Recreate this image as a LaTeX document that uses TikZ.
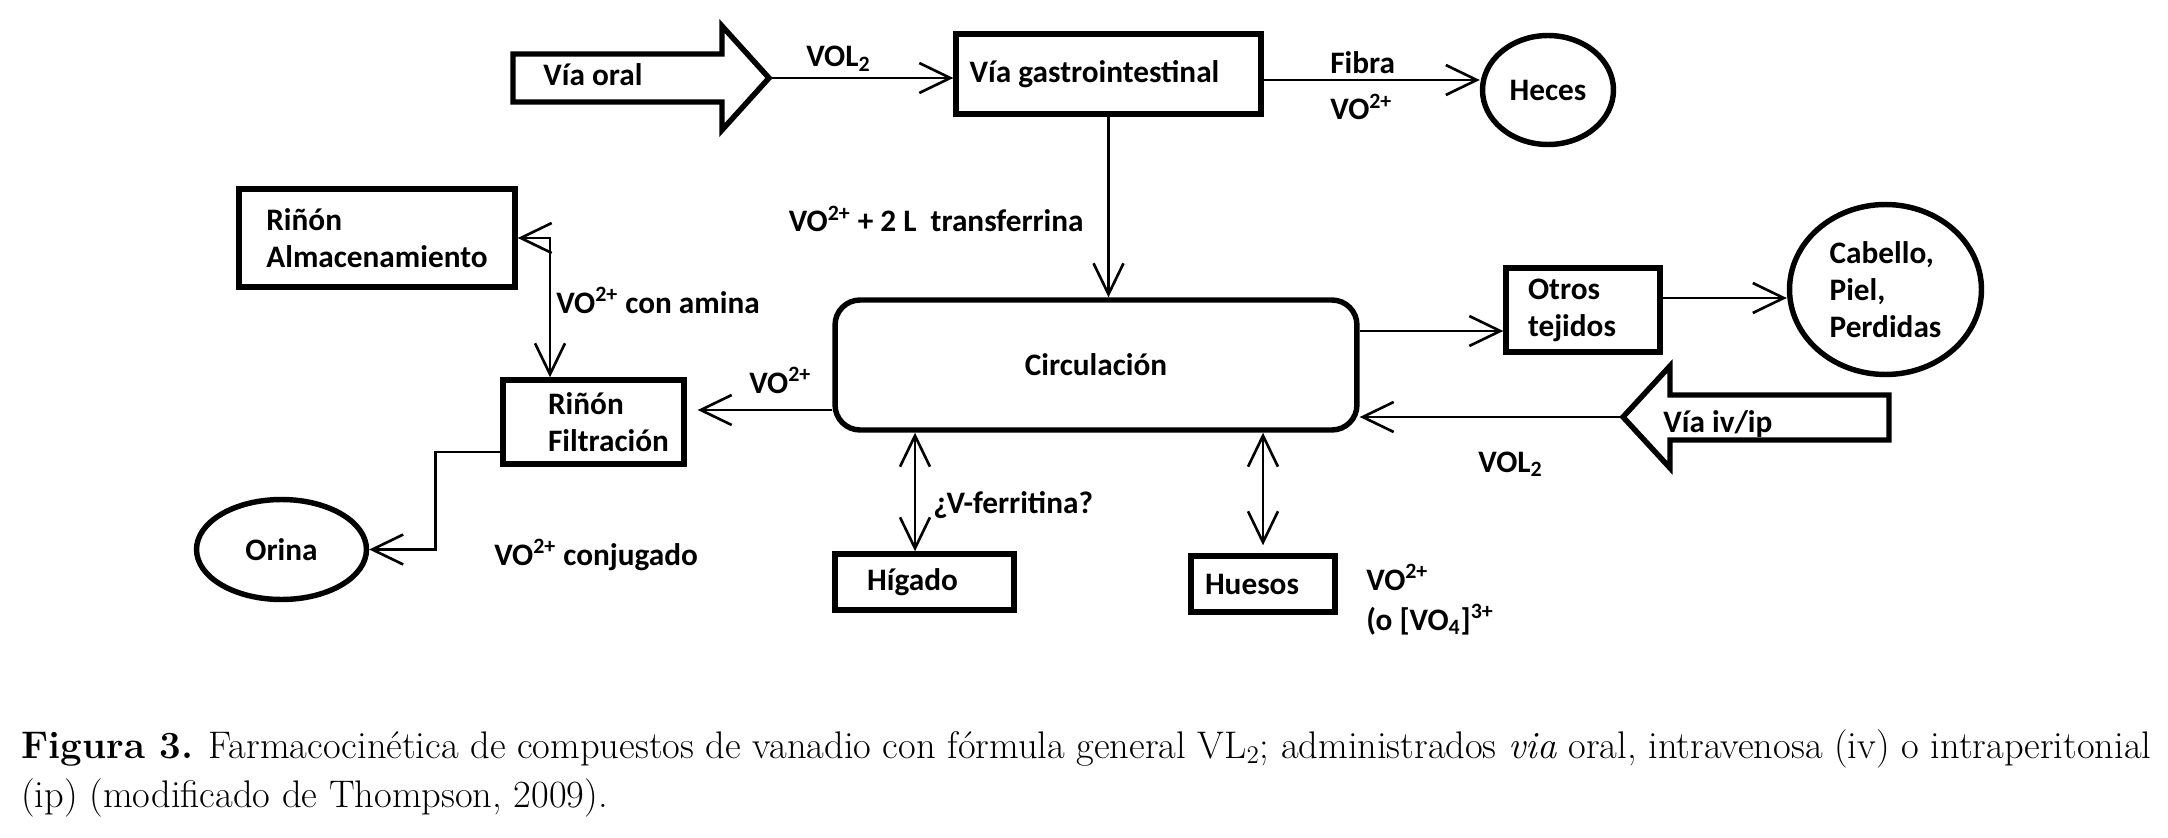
\documentclass[tikz,border=0pt]{standalone}
\usepackage{fontspec}
\newfontfamily\diagfont{Carlito}
\usetikzlibrary{arrows.meta}
\usetikzlibrary{shapes.geometric}

\begin{document}
\begin{tikzpicture}[x=.02cm, y=-.02cm,
  every node/.style={font=\diagfont\bfseries\fontsize{17.8}{21}\selectfont},
  box/.style={draw, line width=3.1pt, inner sep=3pt},
  blob/.style={draw, ellipse, line width=3.1pt, inner sep=1pt},
  lbl/.style={anchor=base west, inner sep=0pt},
  flow/.style={line width=1.5pt, -{Straight Barb[length=.62cm, width=.6cm]}},
  both/.style={line width=1.5pt, {Straight Barb[length=.62cm, width=.6cm]}-{Straight Barb[length=.62cm, width=.6cm]}}]
\useasboundingbox (0,0) rectangle (2168,838);

% block arrows
\draw[line width=3.1pt] (513,54) -- (722,54) -- (722,26) -- (769,78) -- (722,130) -- (722,102) -- (513,102) -- cycle;
\coordinate (oraltip) at (769,78);
\node[lbl] (oraltxt) at (543,86) {Vía oral};
\draw[line width=3.1pt] (1889,395) -- (1670,395) -- (1670,366) -- (1623,417) -- (1670,468) -- (1670,440) -- (1889,440) -- cycle;
\coordinate (ivtip) at (1623,417);
\node[lbl] (ivtxt) at (1663,432) {Vía iv/ip};

% boxes
\node[box, minimum width=6.1cm, minimum height=1.6cm] (gi) at (1108.5,74) {Vía gastrointestinal\hspace*{.56cm}};
\node[blob, minimum width=2.62cm, minimum height=2.18cm] (heces) at (1548,90) {Heces};
\node[box, rounded corners=.5cm, minimum width=10.44cm, minimum height=2.6cm] (circ) at (1096,365) {Circulación};
\node[box, align=left, minimum width=3.08cm, minimum height=1.68cm] (otros) at (1583,310) {Otros\\tejidos\hspace*{.44cm}};
\node[blob, align=left, minimum width=3.84cm, minimum height=3.4cm] (cab) at (1885.5,289.5) {Cabello,\\Piel,\\Perdidas};
\node[box, align=left, minimum width=5.52cm, minimum height=1.96cm] (alm) at (377,238) {Riñón\\Almacenamiento};
\node[box, align=left, minimum width=3.62cm, minimum height=1.68cm] (filt) at (593.5,422) {\hspace*{.6cm}Riñón\\\hspace*{.6cm}Filtración};
\node[blob, minimum width=3.4cm, minimum height=2cm] (orina) at (281.5,549.5) {Orina};
\node[box, minimum width=3.58cm, minimum height=1.12cm] (hig) at (924.5,582) {Hígado\hspace*{.48cm}};
\node[box, minimum width=2.88cm, minimum height=1.12cm] (hue) at (1263,584) {Huesos\hspace*{.44cm}};

% connectors
\draw[flow] (oraltip) -- (oraltip -| gi.west);
\draw[flow] ([yshift=-.12cm]gi.east) -- ([yshift=-.12cm]gi.east -| heces.west);
\draw[flow] (gi.south) -- (gi.south |- circ.north);
\draw[flow] ([yshift=.68cm]circ.east) -- ([yshift=.68cm]circ.east -| otros.west);
\draw[flow] ([yshift=.24cm]otros.east) -- ([yshift=.24cm]otros.east -| cab.west);
\draw[flow] (ivtip) -- (ivtip -| circ.east);
\draw[flow, shorten >=.22cm] ([yshift=-.9cm]circ.west) -- ([yshift=-.9cm]circ.west -| filt.east);
\draw[both] (alm.east) -| ([xshift=-.87cm]filt.north);
\draw[flow] ([yshift=-.6cm]filt.west) -- ++(-65,0) |- (orina.east);
\draw[both] ([xshift=-.19cm]hig.north) -- ([xshift=-.19cm]hig.north |- circ.south);
\draw[both, shorten <=.16cm] (hue.north) -- (hue.north |- circ.south);

% labels
\node[lbl] (vol1) at (806,67) {VOL\textsubscript{2}};
\node[lbl] (fibra) at (1330,74) {Fibra};
\node[lbl] (vo1) at (1330,120) {VO\textsuperscript{2+}};
\node[lbl, anchor=base east] (transf) at (1084,232) {VO\textsuperscript{2+} + 2 L\ \ transferrina};
\node[lbl] (amina) at (556,313) {VO\textsuperscript{2+} con amina};
\node[lbl] (vo2) at (749,393) {VO\textsuperscript{2+}};
\node[lbl] (conj) at (494,565) {VO\textsuperscript{2+} conjugado};
\node[lbl] (ferr) at (933,513) {¿V-ferritina?};
\node[lbl] (vo3) at (1366,590) {VO\textsuperscript{2+}};
\node[lbl] (vo4) at (1366,630) {(o [VO\textsubscript{4}]\textsuperscript{3+}};
\node[lbl] (vol2) at (1478,472) {VOL\textsubscript{2}};

% caption
\node[lbl, font=\fontsize{21.9}{27.9}\selectfont] (cap1) at (21,758) {\textbf{Figura 3.} Farmacocinética de compuestos de vanadio con fórmula general VL$_2$; administrados \textit{via} oral, intravenosa (iv) o intraperitonial};
\node[lbl, font=\fontsize{21.9}{27.9}\selectfont] (cap2) at (21,807) {(ip) (modificado de Thompson, 2009).};
\end{tikzpicture}
\end{document}
